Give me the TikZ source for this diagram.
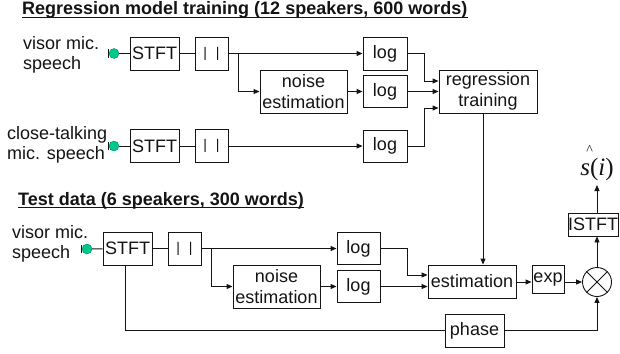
\documentclass[tikz,border=0pt]{standalone}
\usepackage{fontspec}
\setmainfont{Liberation Sans}
\newfontfamily\seriffam{Liberation Serif}
\usetikzlibrary{arrows.meta,calc}
\definecolor{pincol}{RGB}{0,200,140}
\definecolor{ink}{RGB}{20,20,20}
\newcommand{\absbars}{{\fontsize{14}{14}\selectfont\raisebox{-1pt}{|\hspace{9pt}|}}}
\begin{document}
\begin{tikzpicture}[x=1pt,y=-1pt,
  box/.style={draw=ink, line width=0.9pt, rectangle, inner sep=0pt, font=\fontsize{18}{20.5}\selectfont, text=ink, align=center},
  lbl/.style={inner sep=0pt, font=\fontsize{18}{20}\selectfont, text=ink, align=left, anchor=base west},
  ttl/.style={inner sep=0pt, font=\fontsize{18}{20}\selectfont\bfseries, text=ink, anchor=base west},
  src/.style={circle, fill=pincol, draw=pincol!70!black, line width=0.4pt, minimum size=10pt, inner sep=0pt},
  pinmark/.style={draw=ink, line width=0.6pt},
  wire/.style={draw=ink, line width=0.9pt},
  arr/.style={wire, -{Triangle[length=6pt,width=5pt]}},
  ttlline/.style={draw=ink, line width=1.3pt},
]
\useasboundingbox (0,0) rectangle (620,353);

% ---------- training ----------
\node[ttl] (t1) at (22,15) {Regression model training (12 speakers, 600 words)};
\draw[ttlline] ([yshift=-2.5pt]t1.base west) -- ([yshift=-2.5pt]t1.base east);

\node[lbl] (l1) at (23,69) {visor mic.\\speech};
\node[src] (c1) at (114,53.5) {};
\node[box, minimum width=49pt, minimum height=33pt] (stft1) at (154.5,53.5) {STFT};
\node[box, minimum width=33pt, minimum height=33pt] (abs1) at (211.5,53.5) {\absbars};
\node[box, minimum width=44pt, minimum height=33pt] (log1) at (385,53.5) {log};
\node[box, minimum width=87pt, minimum height=43pt] (noise1) at (303.5,91.5) {noise\\estimation};
\node[box, minimum width=44pt, minimum height=32pt] (log2) at (385,91.5) {log};
\node[box, minimum width=98pt, minimum height=43pt] (reg) at (488,91.5) {regression\\training};

\node[lbl] (l2) at (7,159) {close-talking\\mic. speech};
\node[src] (c2) at (114,146) {};
\node[box, minimum width=49pt, minimum height=33pt] (stft2) at (154.5,146) {STFT};
\node[box, minimum width=33pt, minimum height=33pt] (abs2) at (211.5,146) {\absbars};
\node[box, minimum width=44pt, minimum height=32pt] (log3) at (385,146) {log};

\draw[pinmark] ([xshift=-0.5pt,yshift=-4pt]c1.west) -- ([xshift=-0.5pt,yshift=4pt]c1.west);
\draw[pinmark] ([xshift=-0.5pt,yshift=-4pt]c2.west) -- ([xshift=-0.5pt,yshift=4pt]c2.west);

\draw[wire] (c1) -- (stft1);
\draw[wire] (stft1) -- (abs1);
\draw[arr] (abs1) -- (log1);
\coordinate (b1) at (238,53.5);
\draw[arr] (b1) |- (noise1.west);
\draw[arr] (noise1) -- (log2);
\coordinate (j1) at (424,53.5);
\draw[arr] (log1.east) -- (j1) |- ($(reg.west)+(0,-10.5)$);
\draw[arr] (log2) -- (reg);
\draw[arr] (log3.east) -| (j1 |- 0,108) -- ($(reg.west)+(0,16.5)$);

\draw[wire] (c2) -- (stft2);
\draw[wire] (stft2) -- (abs2);
\draw[arr] (abs2) -- (log3);

% ---------- test ----------
\node[ttl] (t2) at (18,205) {Test data (6 speakers, 300 words)};
\draw[ttlline] ([yshift=-2.5pt]t2.base west) -- ([yshift=-2.5pt]t2.base east);

\node[lbl] (l3) at (12,258) {visor mic.\\speech};
\node[src] (c3) at (87,249) {};
\node[box, minimum width=49pt, minimum height=33pt] (stft3) at (127.5,248.5) {STFT};
\node[box, minimum width=33pt, minimum height=33pt] (abs3) at (184.5,248.5) {\absbars};
\node[box, minimum width=43pt, minimum height=32pt] (log4) at (358.5,248.5) {log};
\node[box, minimum width=87pt, minimum height=43pt] (noise2) at (276.5,286.5) {noise\\estimation};
\node[box, minimum width=43pt, minimum height=32pt] (log5) at (358.5,286.5) {log};
\node[box, minimum width=88pt, minimum height=33pt] (est) at (472,281.5) {estimation};
\node[box, minimum width=32pt, minimum height=28pt] (exp) at (548,279.5) {exp};
\node[circle, draw=ink, line width=0.9pt, minimum size=29pt, inner sep=0pt] (mult) at (597,282) {};
\draw[wire] (mult.north west) -- (mult.south east);
\draw[wire] (mult.north east) -- (mult.south west);
\node[box, minimum width=48pt, minimum height=23pt] (istft) at (593,224.5) {ISTFT};
\node[box, minimum width=59pt, minimum height=33pt] (phase) at (474.5,330.5) {phase};
\node[inner sep=0pt, anchor=base, text=ink, font=\seriffam\fontsize{25}{25}\selectfont] (shat) at (597,175)
  {\makebox[0pt][l]{\raisebox{21pt}{\hspace{6pt}\fontsize{14}{14}\selectfont\textasciicircum}}\textit{s}(\textit{i})};

\draw[pinmark] ([xshift=-0.5pt,yshift=-4pt]c3.west) -- ([xshift=-0.5pt,yshift=4pt]c3.west);

\draw[wire] (c3) -- (stft3);
\draw[wire] (stft3) -- (abs3);
\draw[arr] (abs3) -- (log4);
\coordinate (b2) at (211,248.5);
\draw[arr] (b2) |- (noise2.west);
\draw[arr] (noise2) -- (log5);
\coordinate (j2) at (407,248.5);
\draw[arr] (log4.east) -- (j2) |- ($(est.west)+(0,-6.5)$);
\draw[arr] (log5.east) -- (log5.east -| est.west);
\coordinate (r1) at (483,113);
\draw[arr] (r1) -- (r1 |- est.north);
\draw[arr] (est.east |- 0,282) -- (exp.west |- 0,282);
\draw[arr] (exp.east |- 0,282) -- (mult.west);
\draw[arr] (mult.north) -- (mult.north |- istft.south);
\draw[arr] (mult.north |- istft.north) -- (597,185);
\draw[wire] (stft3.south -| 125,0) |- (phase.west);
\draw[arr] (phase.east) -| (mult.south);
\end{tikzpicture}
\end{document}
